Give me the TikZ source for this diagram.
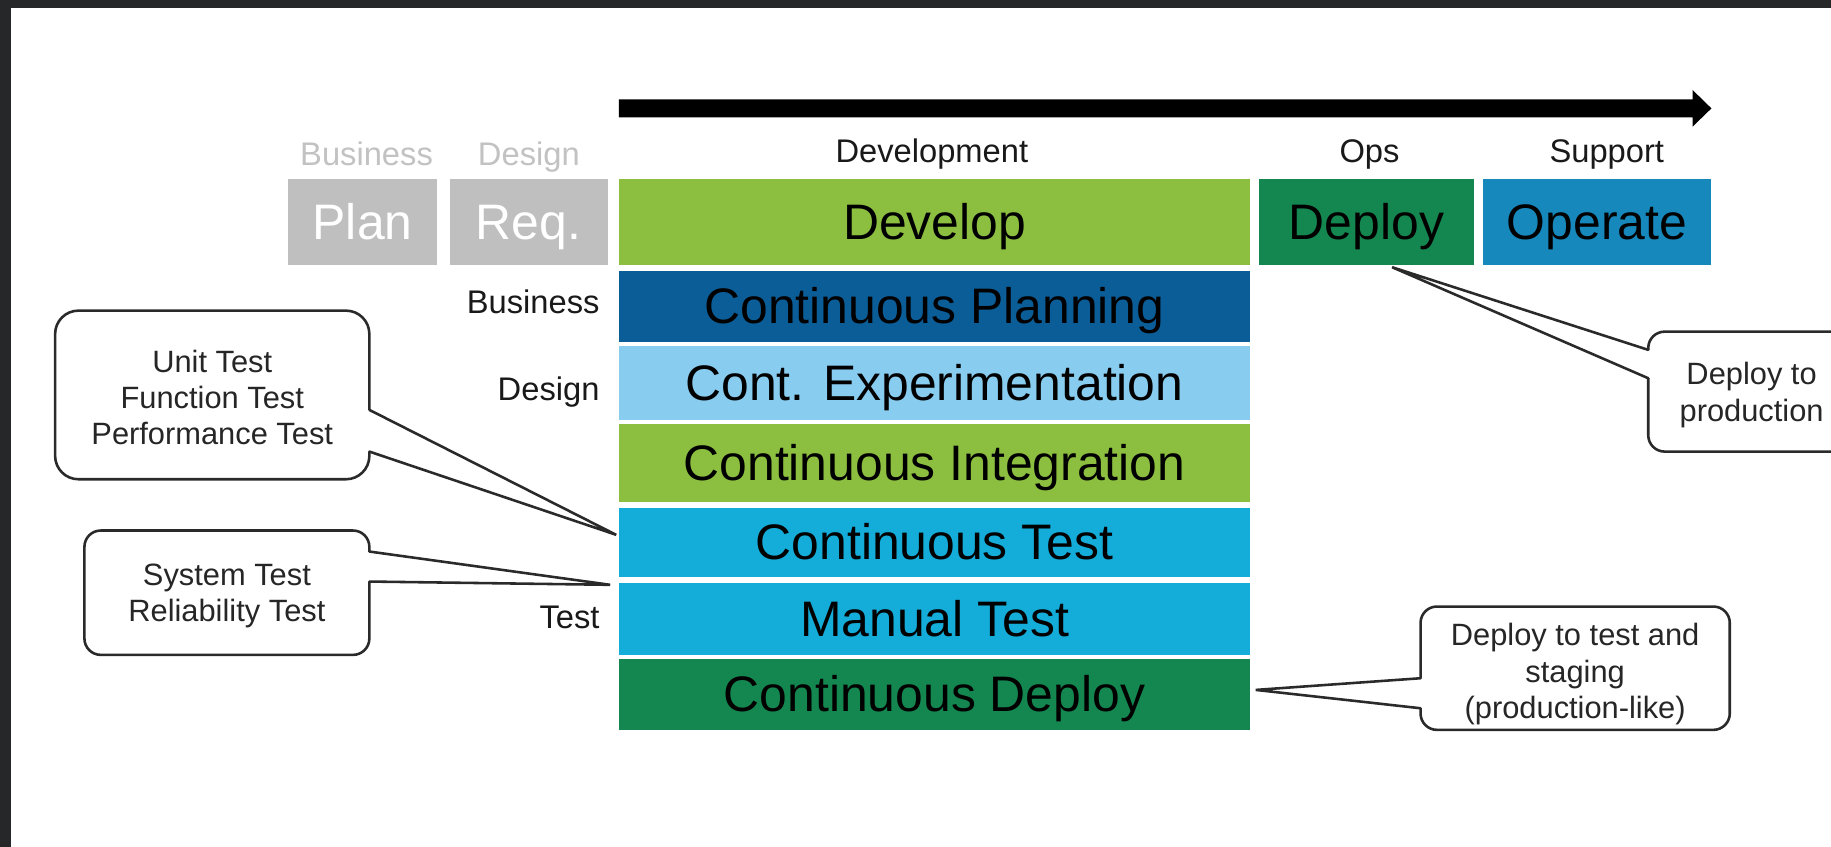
\documentclass[tikz,border=0pt]{standalone}
\usepackage{fontspec}
\setmainfont{Liberation Sans}
\usetikzlibrary{calc}
\definecolor{frame}{HTML}{262729}
\definecolor{grayBox}{HTML}{BFBFBF}
\definecolor{grayText}{HTML}{C2C2C2}
\definecolor{greenL}{HTML}{8CBF3F}
\definecolor{greenD}{HTML}{14864F}
\definecolor{blueOp}{HTML}{1688BC}
\definecolor{blueCP}{HTML}{0B5D97}
\definecolor{blueCE}{HTML}{88CDF0}
\definecolor{cyanT}{HTML}{14ACD8}
\definecolor{lineC}{HTML}{2A2A2A}
\newcommand\FontBig{\fontsize{21.35pt}{25pt}\selectfont}
\newcommand\FontMid{\fontsize{14pt}{17pt}\selectfont}
\newcommand\FontSml{\fontsize{13.2pt}{15.5pt}\selectfont}
\begin{document}
\begin{tikzpicture}[x=0.5pt,y=-0.5pt,
  blk/.style={rectangle, inner sep=0pt, outer sep=0pt, minimum height=36.85pt,
    font=\FontBig, text height=19.3pt, text depth=4.5pt, text=black},
  rowbox/.style={blk, minimum width=270.25pt},
  lbl/.style={inner sep=0pt, font=\FontMid, text=black!90},
  callout/.style={draw=lineC, line width=1.1pt, fill=white, inner sep=0pt, outer sep=0pt},
  callouttext/.style={inner sep=0pt, align=center, font=\FontSml, text=black!85},
  ptr/.style={draw=lineC, line width=1.1pt, line join=miter, line cap=round}
]
\clip (0,0) rectangle (1568,725.3);
\fill[white] (0,0) rectangle (1568,725.3);
\fill[frame] (0,0) rectangle (1568,6.9);
\fill[frame] (0,0) rectangle (9.4,725.3);

% timeline arrow
\fill[black] (530,85) -- (1449.4,85) -- (1449.4,77) -- (1465.6,92.8) -- (1449.4,108.5) -- (1449.4,100.5) -- (530,100.5) -- cycle;

% header labels
\node[lbl, text=grayText, anchor=base] (hbus) at (313.9,141.3) {Business};
\node[lbl, text=grayText, anchor=base] (hdes) at (452.9,141.3) {Design};
\node[lbl, anchor=base] (hdev) at (798,139) {Development};
\node[lbl, anchor=base] (hops) at (1172.8,139) {Ops};
\node[lbl, anchor=base] (hsup) at (1376,139) {Support};

% top row
\node[blk, fill=grayBox, text=white, minimum width=64pt] (plan) at (310.5,190.1) {Plan};
\node[blk, fill=grayBox, text=white, minimum width=67.65pt] (req) at (452.65,190.1) {Req.};
\node[blk, fill=greenL, minimum width=270.25pt] (dev) at (800.25,190.1) {Develop};
\node[blk, fill=greenD, minimum width=92.2pt] (dep) at (1170.2,190.1) {Deploy};
\node[blk, fill=blueOp, minimum width=98pt] (ope) at (1367.6,190.1) {Operate};

% rows
\node[rowbox, fill=blueCP, minimum height=30.5pt] (cp) at (800.25,262.5) {Continuous Planning};
\node[rowbox, fill=blueCE, minimum height=31.75pt] (ce) at (800.25,328.25) {Cont. Experimentation};
\node[rowbox, fill=greenL, minimum height=33pt] (ci) at (800.25,396.5) {Continuous Integration};
\node[rowbox, fill=cyanT, minimum height=29.5pt] (ct) at (800.25,464.5) {Continuous Test};
\node[rowbox, fill=cyanT, minimum height=31pt] (mt) at (800.25,530) {Manual Test};
\node[rowbox, fill=greenD, minimum height=30.75pt] (cd) at (800.25,594.75) {Continuous Deploy};

% left labels
\node[lbl, anchor=base east] (lbus) at (513.8,268.8) {Business};
\node[lbl, anchor=base east] (ldes) at (513.8,343) {Design};
\node[lbl, anchor=base east] (ltst) at (513.8,538) {Test};

% callout 1
\node[callout, rounded corners=10pt, minimum width=134.55pt, minimum height=72.2pt] (c1) at (181.75,338.2) {};
\node[callouttext] (c1t) at ($(c1.center)+(0,2)$) {Unit Test\\Function Test\\Performance Test};
\coordinate (t1) at (527.7,458);
\coordinate (c1a) at (c1.east |- 0,351);
\coordinate (c1b) at (c1.east |- 0,386.7);
\fill[white] ($(c1a)+(-2.5,0)$) rectangle ($(c1b)+(2.5,0)$);
\draw[ptr] (c1a) -- (t1) -- (c1b);

% callout 2
\node[callout, rounded corners=7pt, minimum width=122pt, minimum height=53.25pt] (c2) at (194.3,507.55) {};
\node[callouttext] (c2t) at ($(c2.center)+(0,3)$) {System Test\\Reliability Test};
\coordinate (t2) at (522.5,500.8);
\coordinate (c2a) at (c2.east |- 0,472.3);
\coordinate (c2b) at (c2.east |- 0,498);
\fill[white] ($(c2a)+(-2.5,0)$) rectangle ($(c2b)+(2.5,0)$);
\draw[ptr] (c2a) -- (t2) -- (c2b);

% callout 3
\node[callout, rounded corners=7pt, minimum width=88.5pt, minimum height=51.35pt] (c3) at (1500,335.35) {};
\node[callouttext] (c3t) at ($(c3.center)+(0,3)$) {Deploy to\\production};
\coordinate (t3) at (1192.1,228.8);
\coordinate (c3a) at (c3.west |- 0,299.6);
\coordinate (c3b) at (c3.west |- 0,323.9);
\fill[white] ($(c3a)+(-2.5,0)$) rectangle ($(c3b)+(2.5,0)$);
\draw[ptr] (c3a) -- (t3) -- (c3b);

% callout 4
\node[callout, rounded corners=7pt, minimum width=132.4pt, minimum height=52.8pt] (c4) at (1348.9,572.2) {};
\node[callouttext] (c4t) at ($(c4.center)+(0,5)$) {Deploy to test and\\staging\\(production-like)};
\coordinate (t4) at (1075.4,590.8);
\coordinate (c4a) at (c4.west |- 0,580.8);
\coordinate (c4b) at (c4.west |- 0,606.5);
\fill[white] ($(c4a)+(-2.5,0)$) rectangle ($(c4b)+(2.5,0)$);
\draw[ptr] (c4a) -- (t4) -- (c4b);
\end{tikzpicture}
\end{document}
